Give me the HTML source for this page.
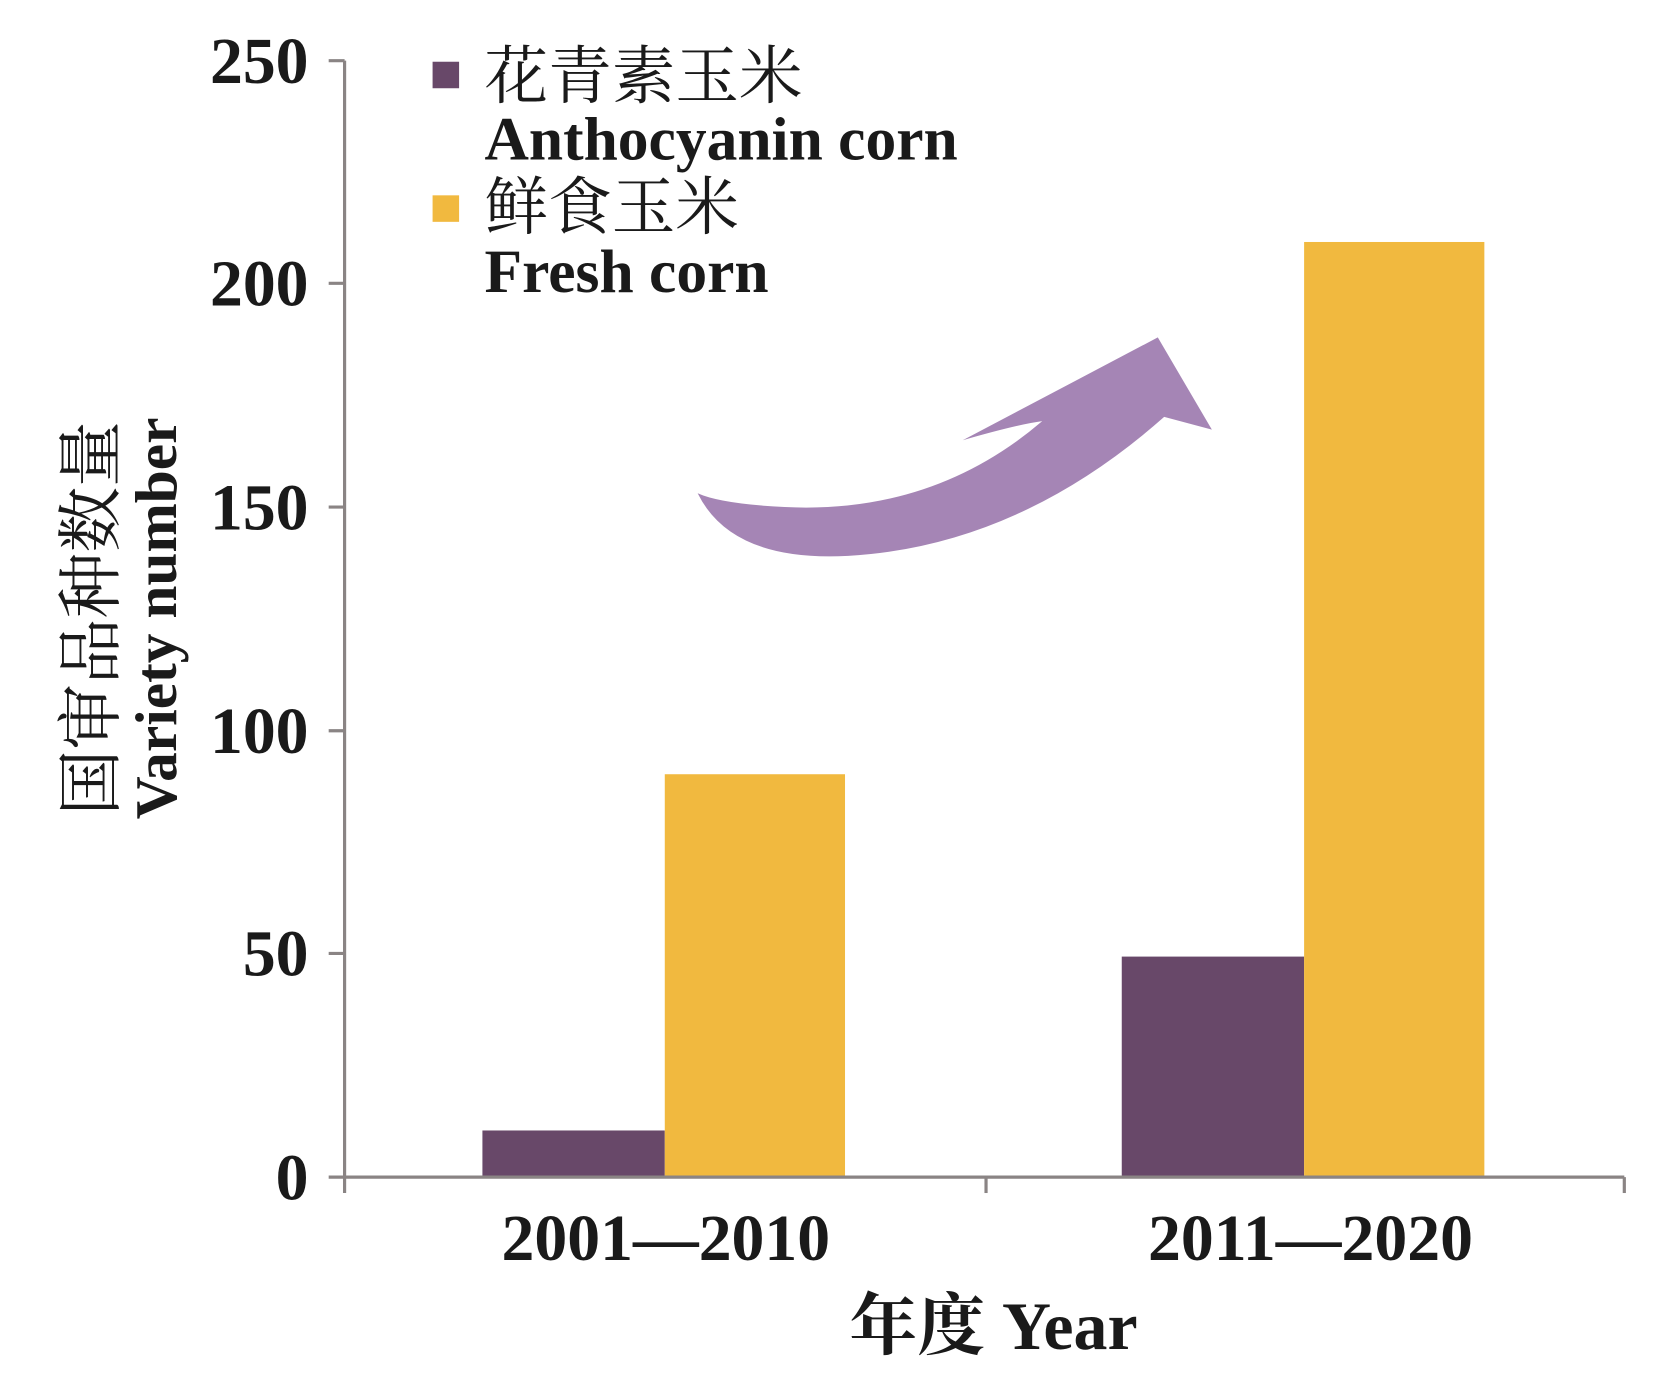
<!DOCTYPE html>
<html><head><meta charset="utf-8"><style>
html,body{margin:0;padding:0;background:#fff;}
svg{display:block;}
text{font-family:"Liberation Serif","Noto Serif CJK SC","Noto Sans CJK SC",serif;fill:#1a1a1a;}
</style></head><body>
<svg width="1654" height="1382" viewBox="0 0 1560 1303" xmlns="http://www.w3.org/2000/svg">
<rect width="1560" height="1303" fill="#fff"/>
<rect x="455" y="1066" width="172" height="44" fill="#684869"/>
<rect x="627" y="730" width="170" height="380" fill="#f1b93f"/>
<rect x="1058" y="902" width="172" height="208" fill="#684869"/>
<rect x="1230" y="228" width="170" height="882" fill="#f1b93f"/>
<g stroke="#8a8484" stroke-width="3" fill="none">
<line x1="325" y1="57" x2="325" y2="1125"/>
<line x1="325" y1="1110" x2="1532" y2="1110"/>
<line x1="930" y1="1110" x2="930" y2="1125"/>
<line x1="1532" y1="1110" x2="1532" y2="1125"/>
<line x1="310" y1="57" x2="325" y2="57"/>
<line x1="310" y1="267" x2="325" y2="267"/>
<line x1="310" y1="478" x2="325" y2="478"/>
<line x1="310" y1="689" x2="325" y2="689"/>
<line x1="310" y1="899" x2="325" y2="899"/>
<line x1="310" y1="1110" x2="325" y2="1110"/>
</g>
<g font-size="62" font-weight="bold" text-anchor="end">
<text x="291" y="78">250</text>
<text x="291" y="288">200</text>
<text x="291" y="499">150</text>
<text x="291" y="710">100</text>
<text x="291" y="920">50</text>
<text x="291" y="1131">0</text>
</g>
<g font-size="62" font-weight="bold" text-anchor="middle">
<text x="628" y="1188">2001—2010</text>
<text x="1236" y="1188">2011—2020</text>
</g>
<text x="937" y="1272" font-size="64" font-weight="bold" text-anchor="middle">年度  Year</text>
<g transform="translate(0,583) rotate(-90)" text-anchor="middle">
<text x="0" y="107" font-size="62">国审品种数量</text>
<text x="0" y="166" font-size="56" font-weight="bold">Variety number</text>
</g>
<rect x="408" y="58" width="25" height="25" fill="#684869"/>
<rect x="408" y="184" width="25" height="25" fill="#f1b93f"/>
<g font-size="60">
<text x="457" y="92">花青素玉米</text>
<text x="457" y="216">鲜食玉米</text>
</g>
<g font-size="58" font-weight="bold">
<text x="457" y="150">Anthocyanin corn</text>
<text x="457" y="275">Fresh corn</text>
</g>
<path d="M658,465 Q690,530 800,524 Q960,515 1098,393 L1143,405 L1092,318 L908,415 Q960,400 983,397 Q880,485 740,478 Q680,475 658,465 Z" fill="#a585b5"/>
</svg>
</body></html>
